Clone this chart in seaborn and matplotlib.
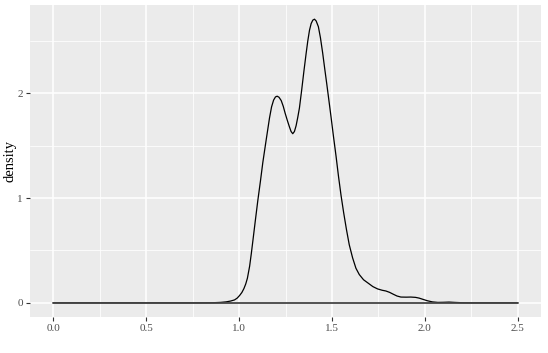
import matplotlib
matplotlib.use("Agg")
import matplotlib.pyplot as plt
import pandas as pd
import numpy as np
import seaborn as sns
from matplotlib.ticker import MultipleLocator

# Density curve
density_x = [0.00, 0.80, 0.86, 0.90, 0.93, 0.955, 0.976, 0.990, 1.003, 1.015,
             1.026, 1.036, 1.045, 1.057, 1.066, 1.075, 1.088, 1.101, 1.115, 1.128,
             1.146, 1.164, 1.175, 1.186, 1.196, 1.205, 1.215, 1.227, 1.238, 1.248,
             1.260, 1.271, 1.280, 1.289, 1.298, 1.307, 1.316, 1.325, 1.337, 1.349,
             1.361, 1.370, 1.379, 1.388, 1.397, 1.406, 1.415, 1.427, 1.438, 1.450,
             1.461, 1.472, 1.483, 1.495, 1.508, 1.522, 1.535, 1.549, 1.563, 1.578,
             1.593, 1.611, 1.629, 1.647, 1.670, 1.697, 1.720, 1.745, 1.770, 1.790,
             1.810, 1.830, 1.850, 1.871, 1.900, 1.924, 1.950, 1.969, 1.990, 2.013,
             2.040, 2.070, 2.100, 2.130, 2.160, 2.200, 2.250, 2.500]
density_y = [0.000, 0.000, 0.001, 0.004, 0.009, 0.017, 0.028, 0.045, 0.070, 0.098,
             0.135, 0.180, 0.235, 0.350, 0.470, 0.600, 0.790, 0.976, 1.160, 1.340,
             1.555, 1.765, 1.870, 1.935, 1.965, 1.972, 1.962, 1.930, 1.875, 1.810,
             1.740, 1.680, 1.635, 1.614, 1.635, 1.690, 1.770, 1.860, 2.030, 2.210,
             2.380, 2.500, 2.600, 2.665, 2.698, 2.707, 2.690, 2.635, 2.530, 2.385,
             2.235, 2.090, 1.940, 1.775, 1.590, 1.400, 1.210, 1.024, 0.860, 0.700,
             0.555, 0.430, 0.330, 0.270, 0.220, 0.185, 0.155, 0.133, 0.120, 0.113,
             0.100, 0.082, 0.065, 0.055, 0.054, 0.055, 0.052, 0.045, 0.033, 0.020,
             0.009, 0.004, 0.005, 0.007, 0.004, 0.001, 0.000, 0.000]

x_ticks = [0.0, 0.5, 1.0, 1.5, 2.0, 2.5]
y_ticks = [0, 1, 2]

df = pd.DataFrame({"x": density_x, "density": density_y})

sns.set_theme(style="darkgrid", rc={
    "axes.facecolor": "#EBEBEB",
    "grid.color": "white",
    "axes.edgecolor": "#EBEBEB",
})
plt.rcParams["font.family"] = ["Liberation Serif", "DejaVu Serif"]

fig = plt.figure(figsize=(5.48, 3.53), dpi=100)
ax = fig.add_axes([30 / 548, 1 - 317 / 353, 511 / 548, 312 / 353])

# ggplot closes the density outline along zero
base = pd.DataFrame({"x": [df["x"].min(), df["x"].max()], "density": [0, 0]})
sns.lineplot(data=df, x="x", y="density", ax=ax, color="black", linewidth=0.9,
             sort=False, estimator=None)
sns.lineplot(data=base, x="x", y="density", ax=ax, color="#444444", linewidth=1.3)

xr = max(density_x) - min(density_x)
yr = max(density_y)
ax.set_xlim(min(density_x) - 0.05 * xr, max(density_x) + 0.05 * xr)
ax.set_ylim(-0.05 * yr, yr * 1.05)

ax.set_xticks(x_ticks)
ax.set_xticklabels([f"{t:.1f}" for t in x_ticks])
ax.set_yticks(y_ticks)
ax.set_yticklabels([str(t) for t in y_ticks])
ax.xaxis.set_minor_locator(MultipleLocator(0.25))
ax.yaxis.set_minor_locator(MultipleLocator(0.5))

ax.grid(which="major", color="white", linewidth=1.1)
ax.grid(which="minor", color="white", linewidth=0.55)
ax.tick_params(which="major", length=3, width=0.8, color="#333333",
               labelsize=8, labelcolor="#4D4D4D", pad=2, bottom=True, left=True)
ax.tick_params(which="minor", length=0)
for s in ax.spines.values():
    s.set_visible(False)

ax.set_xlabel("")
ax.set_ylabel("density", fontsize=10.5, color="black")
ax.yaxis.set_label_coords(-0.026, 0.5)

fig.savefig("out.png", dpi=100)
